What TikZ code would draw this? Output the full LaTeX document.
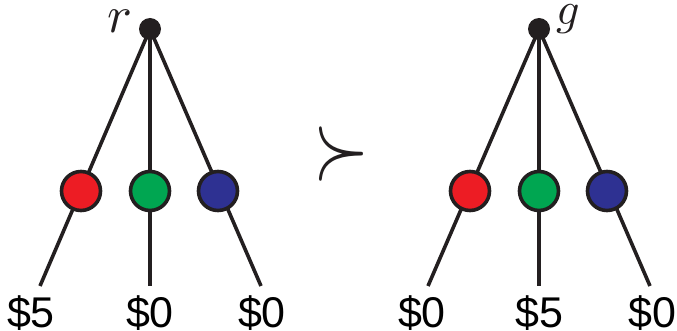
\documentclass[tikz,border=0pt]{standalone}
\usepackage{fontspec}
\newfontfamily\labelfont{Liberation Sans}
\definecolor{inkc}{RGB}{35,31,32}
\definecolor{redc}{RGB}{237,28,36}
\definecolor{greenc}{RGB}{0,166,81}
\definecolor{bluec}{RGB}{46,49,146}
\tikzset{
  edge/.style={draw=inkc, line width=3.6pt},
  rootdot/.style={circle, fill=inkc, inner sep=0pt, minimum size=22pt},
  ball/.style={circle, draw=inkc, line width=3.6pt, inner sep=0pt, minimum size=39pt},
  payoff/.style={font=\labelfont\fontsize{43}{43}\selectfont, inner sep=0pt, anchor=base},
  rootlabel/.style={inner sep=0pt, anchor=base, text=inkc},
}
\begin{document}
\begin{tikzpicture}[x=1pt,y=-1pt]
\useasboundingbox (0,0) rectangle (677,331);
% left tree
\node[rootdot] (r) at (150,29) {};
\coordinate (l1) at (40,286);
\coordinate (l2) at (150,286);
\coordinate (l3) at (261,286);
\draw[edge] (r.center) -- (l1);
\draw[edge] (r.center) -- (l2);
\draw[edge] (r.center) -- (l3);
\node[ball, fill=redc] (lr) at (81,191) {};
\node[ball, fill=greenc] (lg) at (150,191) {};
\node[ball, fill=bluec] (lb) at (218,191) {};
\node[rootlabel] (rl) at (120,33) {\scalebox{5.2}{$r$}};
\node[payoff] (p1) at (31,327) {\$5};
\node[payoff] (p2) at (150,327) {\$0};
\node[payoff] (p3) at (262,327) {\$0};
% relation
\node[inner sep=0pt, text=inkc] (succ) at (341,154) {\scalebox{7.2}[9.4]{$\succ$}};
% right tree
\node[rootdot] (g) at (539,29) {};
\coordinate (m1) at (428,286);
\coordinate (m2) at (539,286);
\coordinate (m3) at (650,286);
\draw[edge] (g.center) -- (m1);
\draw[edge] (g.center) -- (m2);
\draw[edge] (g.center) -- (m3);
\node[ball, fill=redc] (mr) at (470,191) {};
\node[ball, fill=greenc] (mg) at (539,191) {};
\node[ball, fill=bluec] (mb) at (607,191) {};
\node[rootlabel] (gl) at (568,25) {\scalebox{4.6}{$g$}};
\node[payoff] (q1) at (422,327) {\$0};
\node[payoff] (q2) at (539,327) {\$5};
\node[payoff] (q3) at (652,327) {\$0};
\end{tikzpicture}
\end{document}
